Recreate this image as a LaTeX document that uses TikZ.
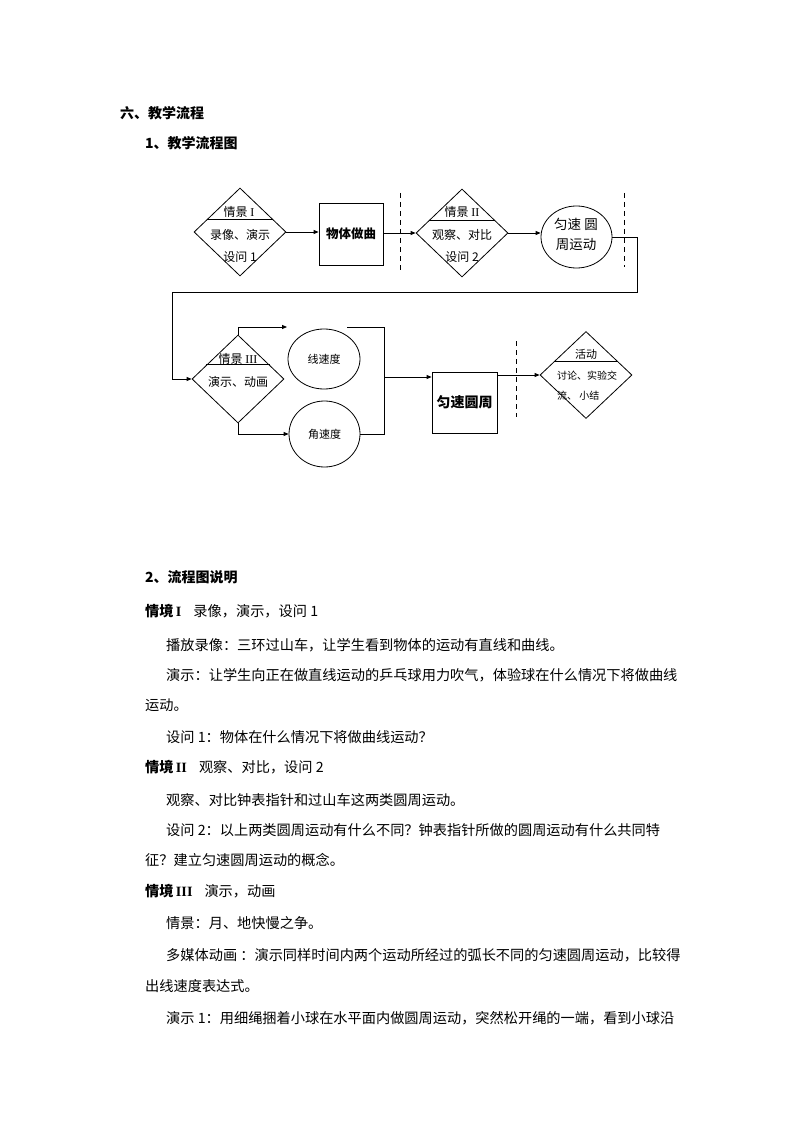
\documentclass[tikz,border=0pt]{standalone}
\usepackage{fontspec}
\setmainfont{Noto Sans CJK SC}
\newfontfamily\lat{Liberation Serif}
\usetikzlibrary{shapes.geometric,arrows.meta,calc}
\begin{document}
\begin{tikzpicture}[x=1pt,y=-1pt,
  ln/.style={line width=0.8pt},
  arr/.style={ln,-{Triangle[length=5pt,width=4pt]}},
  dia/.style={diamond,draw,ln,inner sep=0pt,minimum width=92pt,minimum height=88pt},
  ell/.style={ellipse,draw,ln,inner sep=0pt},
  boxn/.style={rectangle,draw,ln,inner sep=0pt},
  dsh/.style={ln,dash pattern=on 5pt off 4pt},
  txt/.style={inner sep=0pt,font=\fontsize{12}{12}\selectfont},
  stxt/.style={inner sep=0pt,font=\fontsize{10}{10}\selectfont},
  body/.style={anchor=west,inner sep=0pt,font=\fontsize{14.2}{14.2}\selectfont},
  head/.style={anchor=west,inner sep=0pt,font=\bfseries\fontsize{14}{14}\selectfont},
]
\useasboundingbox (0,0) rectangle (794,1123);
\fill[white] (0,0) rectangle (794,1123);

% headings
\node[head] (h1) at (120,113) {六、教学流程};
\node[head] (h2) at (145,143) {1、教学流程图};

% row 1
\node[dia] (d1) at (240,232) {};
\draw[ln] ($(d1.west)!0.29!(d1.north)$) -- ($(d1.east)!0.29!(d1.north)$);
\node[txt] (d1a) at (239,212) {情景 {\lat I}};
\node[txt] (d1b) at (240,235) {录像、演示};
\node[txt] (d1c) at (240,257) {设问 1};

\node[boxn,minimum width=64pt,minimum height=62pt,font=\bfseries\fontsize{12.5}{12.5}\selectfont] (b1) at (351,234) {物体做曲};

\node[dia] (d2) at (462,233) {};
\draw[ln] ($(d2.west)!0.29!(d2.north)$) -- ($(d2.east)!0.29!(d2.north)$);
\node[txt] (d2a) at (462,212) {情景 {\lat II}};
\node[txt] (d2b) at (462,235) {观察、对比};
\node[txt] (d2c) at (462,257) {设问 2};

\node[ell,minimum width=71pt,minimum height=62pt] (c1) at (576.5,237) {};
\node[inner sep=0pt,font=\fontsize{13.5}{13.5}\selectfont] (c1a) at (576,224) {匀速 圆};
\node[inner sep=0pt,font=\fontsize{13.5}{13.5}\selectfont] (c1b) at (576,245) {周运动};

\draw[arr] (d1.east) -- (d1.east -| b1.west);
\draw[arr] (b1.east |- d2.west) -- (d2.west);
\draw[arr] (d2.east) -- (d2.east -| c1.west);
\draw[dsh] (400,193) -- (400,270);
\draw[dsh] (624,193) -- (624,267);

% row 2
\node[dia] (d3) at (238,379) {};
\draw[ln] ($(d3.west)!0.32!(d3.north)$) -- ($(d3.east)!0.32!(d3.north)$);
\node[txt] (d3a) at (238,359) {情景 {\lat III}};
\node[txt] (d3b) at (238,382) {演示、动画};

\node[ell,minimum width=72pt,minimum height=60pt,font=\fontsize{11}{11}\selectfont] (xs) at (324,359) {线速度};
\node[ell,minimum width=71pt,minimum height=66pt,font=\fontsize{11}{11}\selectfont] (ys) at (324.5,434) {角速度};

\node[boxn,minimum width=65pt,minimum height=61pt,font=\bfseries\fontsize{14}{14}\selectfont] (b2) at (464.5,402.5) {匀速圆周};

\node[dia,minimum height=87pt] (d4) at (586,375) {};
\draw[ln] ($(d4.west)!0.30!(d4.north)$) -- ($(d4.east)!0.30!(d4.north)$);
\node[inner sep=0pt,font=\fontsize{11}{11}\selectfont] (d4a) at (586,354) {活动};
\node[stxt] (d4b) at (587,376) {讨论、实验交};
\node[stxt,anchor=west] (d4c) at (557,396) {流、 小结};

% connectors
\coordinate (k2) at (637,292);
\coordinate (k3) at (172,292);
\draw[arr] (c1.east) -| (k2) -- (k3) |- (d3.west);
\coordinate (t1) at (287,327);
\draw[arr] (d3.north) |- (t1);
\draw[arr] (d3.south) |- (ys.west);
\coordinate (m1) at (347,327);
\coordinate (m2) at (384,327);
\draw[ln] (m1) -- (m2) |- (ys.east);
\coordinate (m3) at (384,377);
\draw[arr] (m3) -- (m3 -| b2.west);
\draw[arr] (b2.east |- d4.west) -- (d4.west);
\draw[dsh] (516,341) -- (516,417);

% text section
\node[head] (h3) at (145,577) {2、流程图说明};
\node[body] (p1) at (145,611) {\textbf{情境}\,{\lat\bfseries I}\hspace{12pt}录像，演示，设问 1};
\node[body] (p2) at (166,645) {播放录像：三环过山车，让学生看到物体的运动有直线和曲线。};
\node[body] (p3) at (166,675) {演示：让学生向正在做直线运动的乒乓球用力吹气，体验球在什么情况下将做曲线};
\node[body] (p4) at (145,705) {运动。};
\node[body] (p5) at (166,737) {设问 1：物体在什么情况下将做曲线运动？};
\node[body] (p6) at (145,767) {\textbf{情境}\,{\lat\bfseries II}\hspace{12pt}观察、对比，设问 2};
\node[body] (p7) at (166,800) {观察、对比钟表指针和过山车这两类圆周运动。};
\node[body] (p8) at (166,830) {设问 2：以上两类圆周运动有什么不同？钟表指针所做的圆周运动有什么共同特};
\node[body] (p9) at (145,860) {征？建立匀速圆周运动的概念。};
\node[body] (p10) at (145,891) {\textbf{情境}\,{\lat\bfseries III}\hspace{12pt}演示，动画};
\node[body] (p11) at (166,923) {情景：月、地快慢之争。};
\node[body] (p12) at (166,955) {多媒体动画 ：演示同样时间内两个运动所经过的弧长不同的匀速圆周运动，比较得};
\node[body] (p13) at (145,986) {出线速度表达式。};
\node[body] (p14) at (166,1018) {演示 1：用细绳捆着小球在水平面内做圆周运动，突然松开绳的一端，看到小球沿};
\end{tikzpicture}
\end{document}
